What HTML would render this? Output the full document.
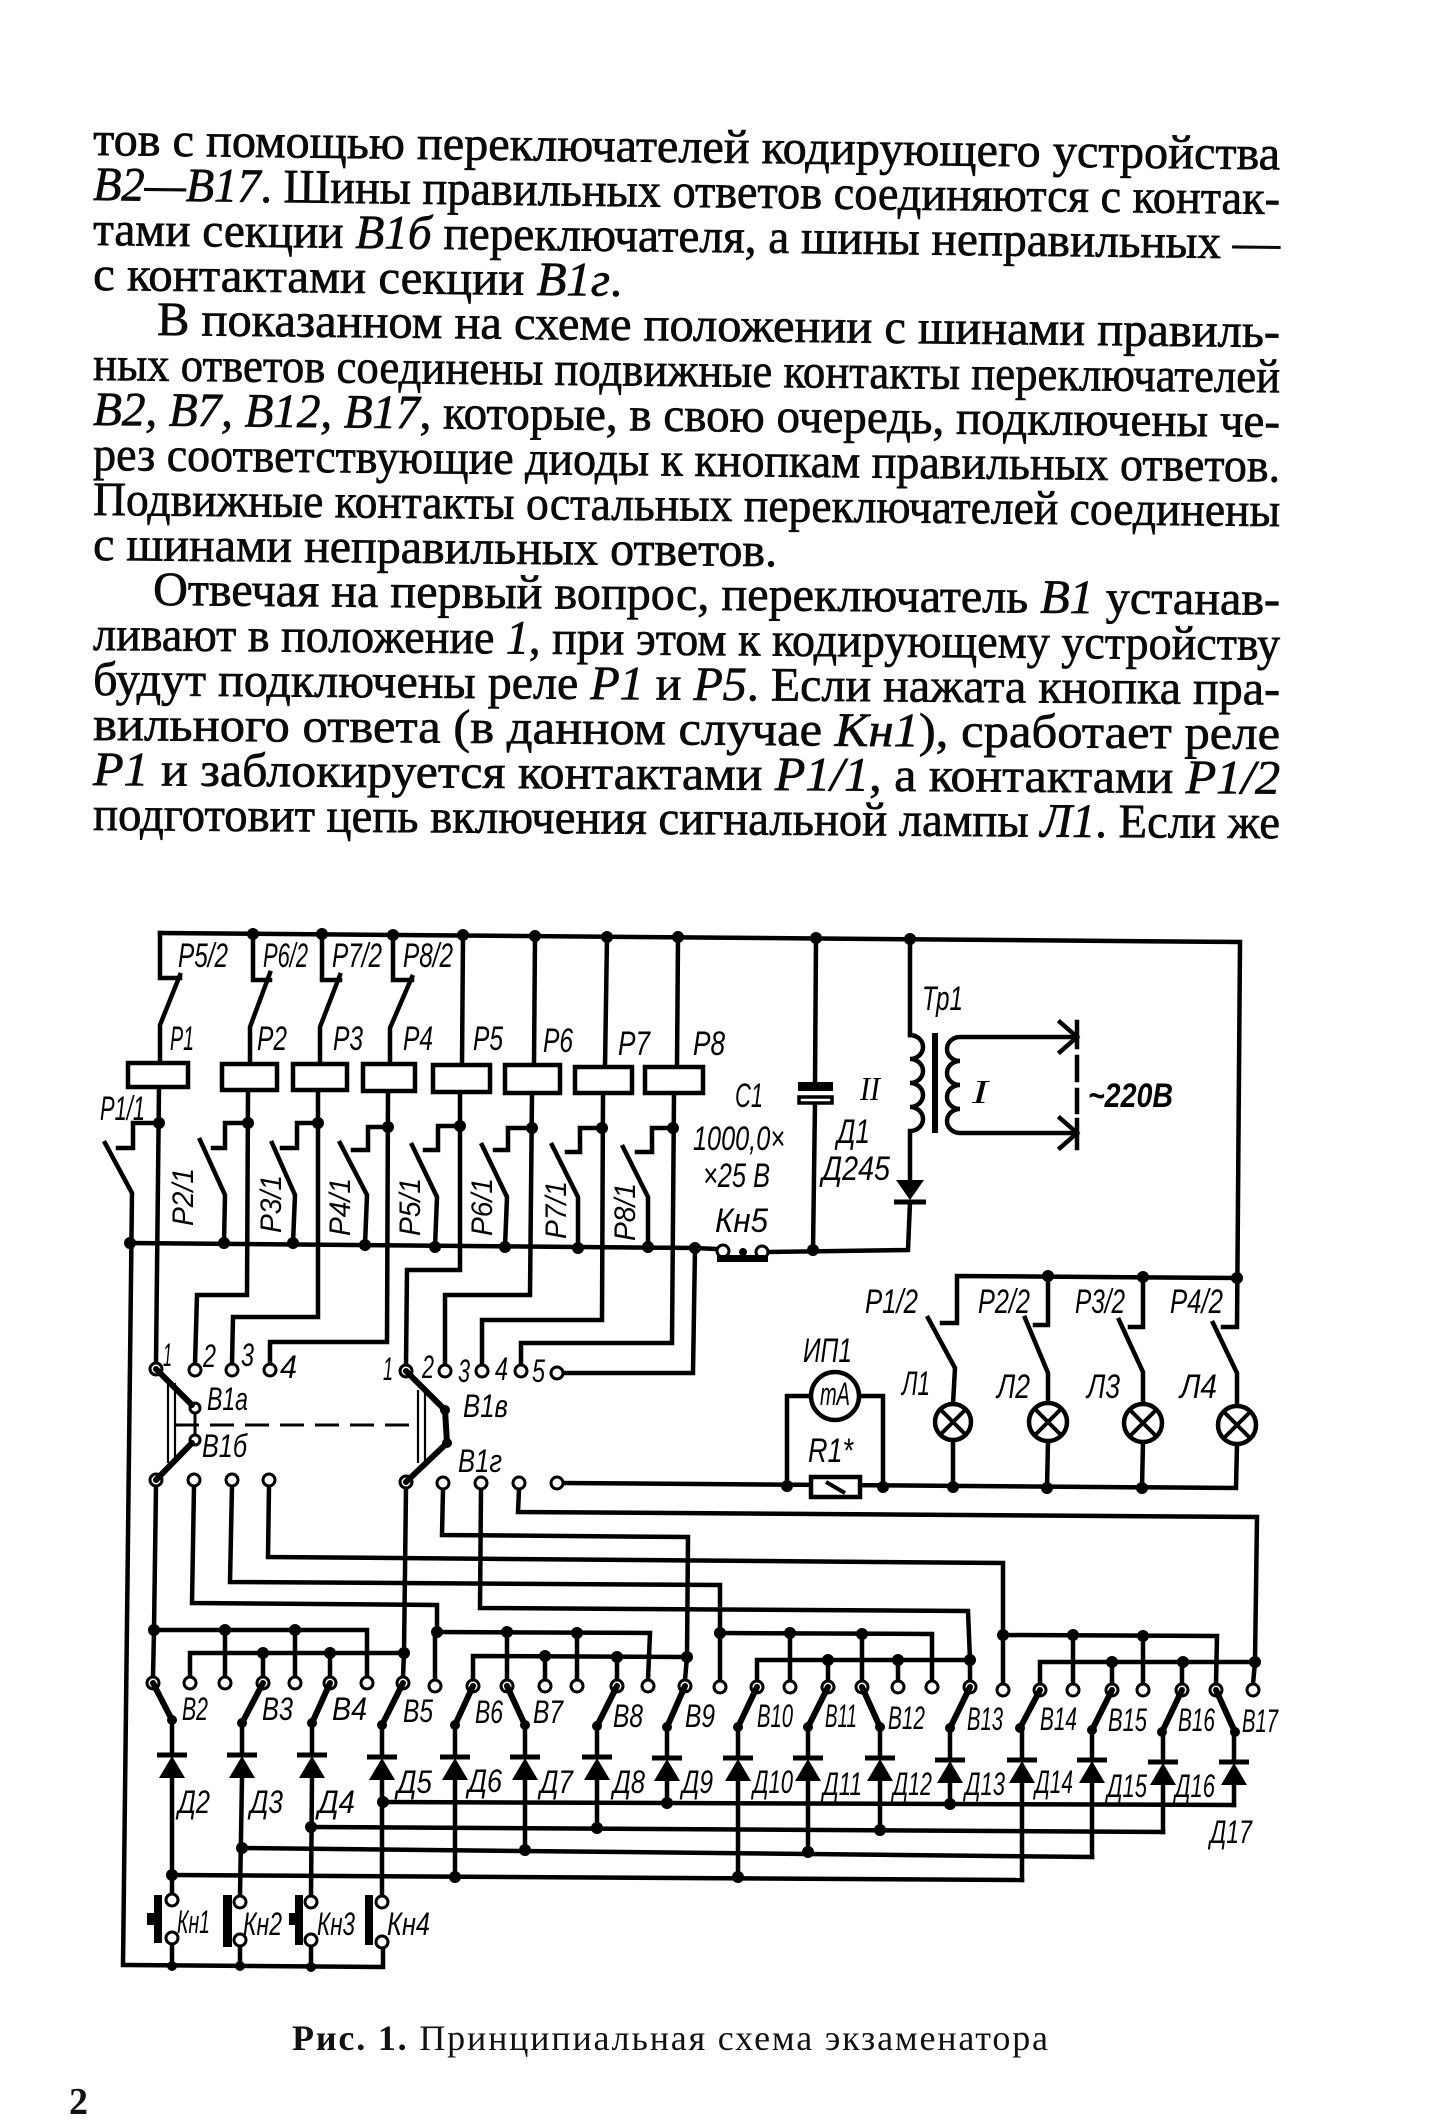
<!DOCTYPE html>
<html><head><meta charset="utf-8"><title>Схема экзаменатора</title>
<style>
html,body{margin:0;padding:0;background:#fff;}
svg{display:block}
.t{font-family:"Liberation Serif","DejaVu Serif",serif;font-size:48px;fill:#0a0a0a;stroke:#0a0a0a;stroke-width:0.7px}
.l{font-family:"Liberation Sans","DejaVu Sans",sans-serif;font-style:italic;font-size:32px;fill:#000}
.lt{font-family:"Liberation Sans","DejaVu Sans",sans-serif;font-style:italic;font-size:34px;fill:#000}
.r{font-family:"Liberation Sans","DejaVu Sans",sans-serif;font-style:italic;font-size:30px;fill:#000}
.s{font-family:"Liberation Serif","DejaVu Serif",serif;font-style:italic;font-size:34px;fill:#000}
</style></head><body>
<svg width="1440" height="2126" viewBox="0 0 1440 2126" xmlns="http://www.w3.org/2000/svg">
<rect width="1440" height="2126" fill="#fff"/>

<!-- ============ TEXT ============ -->
<g class="t">
<text x="93" y="155" textLength="1187" lengthAdjust="spacingAndGlyphs" transform="rotate(0.70 93 155)">тов с помощью переключателей кодирующего устройства</text>
<text x="93" y="200" textLength="1187" lengthAdjust="spacingAndGlyphs" transform="rotate(0.68 93 200)"><tspan font-style="italic">В2—В17</tspan>. Шины правильных ответов соединяются с контак-</text>
<text x="93" y="245" textLength="1187" lengthAdjust="spacingAndGlyphs" transform="rotate(0.66 93 245)">тами секции <tspan font-style="italic">В1б</tspan> переключателя, а шины неправильных —</text>
<text x="93" y="290" textLength="529" lengthAdjust="spacingAndGlyphs" transform="rotate(0.64 93 290)">с контактами секции <tspan font-style="italic">В1г</tspan>.</text>
<text x="157" y="335" textLength="1123" lengthAdjust="spacingAndGlyphs" transform="rotate(0.62 157 335)">В показанном на схеме положении с шинами правиль-</text>
<text x="93" y="380" textLength="1187" lengthAdjust="spacingAndGlyphs" transform="rotate(0.60 93 380)">ных ответов соединены подвижные контакты переключателей</text>
<text x="93" y="425" textLength="1187" lengthAdjust="spacingAndGlyphs" transform="rotate(0.58 93 425)"><tspan font-style="italic">В2, В7, В12, В17</tspan>, которые, в свою очередь, подключены че-</text>
<text x="93" y="470" textLength="1187" lengthAdjust="spacingAndGlyphs" transform="rotate(0.56 93 470)">рез соответствующие диоды к кнопкам правильных ответов.</text>
<text x="93" y="515" textLength="1187" lengthAdjust="spacingAndGlyphs" transform="rotate(0.54 93 515)">Подвижные контакты остальных переключателей соединены</text>
<text x="93" y="560" textLength="684" lengthAdjust="spacingAndGlyphs" transform="rotate(0.52 93 560)">с шинами неправильных ответов.</text>
<text x="153" y="605" textLength="1127" lengthAdjust="spacingAndGlyphs" transform="rotate(0.50 153 605)">Отвечая на первый вопрос, переключатель <tspan font-style="italic">В1</tspan> устанав-</text>
<text x="93" y="650" textLength="1187" lengthAdjust="spacingAndGlyphs" transform="rotate(0.48 93 650)">ливают в положение <tspan font-style="italic">1</tspan>, при этом к кодирующему устройству</text>
<text x="93" y="695" textLength="1187" lengthAdjust="spacingAndGlyphs" transform="rotate(0.46 93 695)">будут подключены реле <tspan font-style="italic">Р1</tspan> и <tspan font-style="italic">Р5</tspan>. Если нажата кнопка пра-</text>
<text x="93" y="740" textLength="1187" lengthAdjust="spacingAndGlyphs" transform="rotate(0.44 93 740)">вильного ответа (в данном случае <tspan font-style="italic">Кн1</tspan>), сработает реле</text>
<text x="93" y="785" textLength="1187" lengthAdjust="spacingAndGlyphs" transform="rotate(0.42 93 785)"><tspan font-style="italic">Р1</tspan> и заблокируется контактами <tspan font-style="italic">Р1/1</tspan>, а контактами <tspan font-style="italic">Р1/2</tspan></text>
<text x="93" y="830" textLength="1187" lengthAdjust="spacingAndGlyphs" transform="rotate(0.40 93 830)">подготовит цепь включения сигнальной лампы <tspan font-style="italic">Л1</tspan>. Если же</text>
</g>

<!-- ============ WIRES ============ -->
<g fill="none" stroke="#000" stroke-width="4.5" stroke-linecap="square" stroke-linejoin="miter">
<path d="M160,933 L1240,942 L1237,1327 L1223,1327"/>
<path d="M160,933 L160,978 L180,978"/>
<path d="M180,975 L160,1025 L160,1063"/>
<path d="M159,1087 L156,1363"/>
<path d="M159,1123 L133,1123 L133,1148 L118,1148"/>
<path d="M105,1143 L132,1193 L123,1965 L383,1967 L383,1948"/>
<path d="M253,934 L253,980 L270,980"/>
<path d="M270,973 L250,1027 L250,1064"/>
<path d="M248,1090 L247,1295 L197,1295 L195,1364"/>
<path d="M248,1123 L225,1123 L225,1148 L213,1148"/>
<path d="M200,1140 L225,1195 L224,1243"/>
<path d="M322,934 L322,980 L340,980"/>
<path d="M340,975 L320,1027 L320,1064"/>
<path d="M318,1090 L318,1317 L233,1317 L232,1364"/>
<path d="M318,1123 L297,1123 L297,1148 L282,1148"/>
<path d="M272,1143 L295,1195 L293,1243"/>
<path d="M393,935 L393,980 L412,980"/>
<path d="M412,977 L390,1028 L390,1064"/>
<path d="M388,1091 L387,1342 L270,1342 L270,1364"/>
<path d="M388,1127 L368,1127 L368,1150 L353,1150"/>
<path d="M340,1143 L367,1195 L365,1245"/>
<path d="M463,935 L462,1065"/>
<path d="M460,1092 L460,1270 L407,1270 L406,1365"/>
<path d="M460,1126 L438,1126 L438,1150 L425,1150"/>
<path d="M412,1145 L437,1197 L435,1247"/>
<path d="M535,936 L534,1065"/>
<path d="M532,1093 L530,1295 L445,1295 L445,1365"/>
<path d="M532,1128 L508,1128 L508,1150 L495,1150"/>
<path d="M482,1145 L507,1197 L505,1247"/>
<path d="M607,937 L605,1067"/>
<path d="M603,1093 L602,1320 L482,1320 L482,1365"/>
<path d="M602,1128 L580,1128 L580,1152 L567,1152"/>
<path d="M552,1145 L578,1197 L578,1248"/>
<path d="M678,937 L677,1067"/>
<path d="M674,1093 L672,1343 L521,1343 L521,1365"/>
<path d="M673,1128 L652,1128 L652,1152 L637,1152"/>
<path d="M623,1147 L648,1197 L648,1247"/>
<path d="M130,1243 L695,1248 L717,1249"/>
<path d="M695,1248 L693,1373 L563,1373"/>
<path d="M768,1252 L908,1250 L910,1202"/>
<path d="M816,938 L815,1083"/>
<path d="M815,1103 L813,1250"/>
<path d="M910,939 L910,1035"/>
<path d="M910,1035 a13,12 0 0 1 0,24 a13,12 0 0 1 0,24 a13,12 0 0 1 0,24 a13,12 0 0 1 0,24 L910,1180"/>
<path d="M1077,1037 L960,1037 a13,12 0 0 0 0,24 a13,12 0 0 0 0,24 a13,12 0 0 0 0,24 a13,12 0 0 0 0,24 L1077,1133"/>
<path d="M1060,1022 L1077,1037 L1060,1052"/>
<path d="M1060,1118 L1077,1133 L1060,1148"/>
<path d="M1077,1022 L1077,1047 M1077,1057 L1077,1080 M1077,1090 L1077,1112 M1077,1120 L1077,1148"/>
<path d="M942,1323 L957,1323 L957,1276 L1237,1278"/>
<path d="M928,1318 L955,1368 L953,1404"/>
<path d="M953,1440 L953,1487"/>
<path d="M1048,1276 L1048,1325 L1035,1325"/>
<path d="M1025,1318 L1048,1373 L1048,1403"/>
<path d="M1048,1441 L1047,1488"/>
<path d="M1143,1277 L1143,1327 L1130,1327"/>
<path d="M1119,1320 L1143,1372 L1143,1404"/>
<path d="M1143,1442 L1142,1488"/>
<path d="M1213,1323 L1237,1373 L1237,1406"/>
<path d="M1237,1444 L1236,1488 L563,1483"/>
<path d="M811,1396 L787,1396 L787,1486"/>
<path d="M859,1396 L883,1396 L883,1487"/>
<path d="M156,1486 L154,1630 L367,1630 L367,1677"/>
<path d="M154,1630 L153,1677 M225,1630 L225,1677 M295,1630 L295,1677"/>
<path d="M194,1486 L192,1603 L437,1605 L437,1632"/>
<path d="M435,1632 L650,1633 L648,1680"/>
<path d="M435,1632 L435,1680 M507,1632 L507,1680 M577,1633 L577,1680"/>
<path d="M232,1486 L230,1582 L720,1585 L720,1633"/>
<path d="M720,1633 L932,1634 L932,1681"/>
<path d="M720,1633 L720,1681 M790,1633 L790,1681 M862,1634 L862,1681"/>
<path d="M269,1486 L268,1557 L1003,1563 L1003,1635"/>
<path d="M1003,1635 L1217,1636 L1216,1684"/>
<path d="M1003,1635 L1003,1684 M1073,1635 L1073,1684 M1143,1636 L1143,1684"/>
<path d="M406,1488 L404,1653"/>
<path d="M190,1677 L190,1653 L404,1653 L403,1677"/>
<path d="M263,1653 L263,1677 M330,1653 L330,1677"/>
<path d="M443,1489 L442,1535 L688,1537 L687,1657 L685,1680"/>
<path d="M473,1680 L473,1656 L687,1657"/>
<path d="M545,1656 L545,1680 M617,1657 L617,1680"/>
<path d="M481,1489 L480,1608 L968,1611 L970,1660 L970,1681"/>
<path d="M757,1681 L757,1660 L970,1660"/>
<path d="M828,1660 L828,1681 M898,1660 L898,1681"/>
<path d="M519,1489 L518,1512 L1257,1517 L1255,1662 L1253,1684"/>
<path d="M1040,1684 L1040,1662 L1255,1662"/>
<path d="M1112,1662 L1112,1684 M1182,1662 L1182,1684"/>
<path d="M383,1802 L1234,1805"/>
<path d="M311,1827 L1163,1832"/>
<path d="M242,1848 L1092,1857"/>
<path d="M172,1875 L1022,1880"/>
<path d="M172,1720 L172,1755 M172,1777 L172,1894"/>
<path d="M242,1723 L242,1755 M242,1777 L240,1896"/>
<path d="M312,1723 L312,1755 M312,1777 L311,1896"/>
<path d="M382,1725 L382,1757 M382,1779 L382,1896"/>
<path d="M455,1725 L455,1757 M455,1779 L455,1877"/>
<path d="M525,1725 L525,1757 M525,1779 L525,1850"/>
<path d="M597,1726 L597,1757 M597,1779 L597,1828"/>
<path d="M667,1727 L667,1758 M667,1780 L667,1803"/>
<path d="M738,1727 L738,1758 M738,1780 L738,1877"/>
<path d="M808,1727 L808,1758 M808,1780 L808,1852"/>
<path d="M880,1727 L880,1758 M880,1780 L880,1830"/>
<path d="M950,1728 L950,1760 M950,1782 L950,1804"/>
<path d="M1022,1728 L1022,1760 M1022,1782 L1022,1880"/>
<path d="M1092,1730 L1092,1760 M1092,1782 L1092,1857"/>
<path d="M1163,1732 L1163,1762 M1163,1784 L1163,1832"/>
<path d="M1234,1732 L1234,1762 M1234,1784 L1234,1805"/>
<path d="M172,1944 L172,1966 M240,1946 L240,1966 M311,1946 L311,1967"/>
</g>

<g stroke="#000" stroke-width="5" fill="none">
<path d="M157,1755 H187 M227,1755 H257 M297,1755 H327 M367,1757 H397 M440,1757 H470 M510,1757 H540 M582,1757 H612 M652,1758 H682 M723,1758 H753 M793,1758 H823 M865,1758 H895 M935,1760 H965 M1007,1760 H1037 M1077,1760 H1107 M1148,1762 H1178 M1219,1762 H1249"/>
<path d="M894,1202 H926"/>
</g>
<g fill="#000">
<polygon points="159,1778 185,1778 172,1756"/>
<polygon points="229,1778 255,1778 242,1756"/>
<polygon points="299,1778 325,1778 312,1756"/>
<polygon points="369,1780 395,1780 382,1758"/>
<polygon points="442,1780 468,1780 455,1758"/>
<polygon points="512,1780 538,1780 525,1758"/>
<polygon points="584,1780 610,1780 597,1758"/>
<polygon points="654,1781 680,1781 667,1759"/>
<polygon points="725,1781 751,1781 738,1759"/>
<polygon points="795,1781 821,1781 808,1759"/>
<polygon points="867,1781 893,1781 880,1759"/>
<polygon points="937,1783 963,1783 950,1761"/>
<polygon points="1009,1783 1035,1783 1022,1761"/>
<polygon points="1079,1783 1105,1783 1092,1761"/>
<polygon points="1150,1785 1176,1785 1163,1763"/>
<polygon points="1221,1785 1247,1785 1234,1763"/>
<polygon points="896,1180 924,1180 910,1200"/>
</g>

<g fill="#fff" stroke="#000" stroke-width="4.5">
<rect x="128" y="1063" width="60" height="24"/>
<rect x="222" y="1064" width="55" height="26"/>
<rect x="293" y="1064" width="54" height="26"/>
<rect x="363" y="1064" width="52" height="27"/>
<rect x="433" y="1065" width="57" height="27"/>
<rect x="505" y="1065" width="55" height="28"/>
<rect x="575" y="1067" width="57" height="26"/>
<rect x="645" y="1067" width="58" height="26"/>
<rect x="811" y="1477" width="49" height="20"/>
<rect x="799" y="1097" width="33" height="6" stroke-width="3.5"/>
<circle cx="835" cy="1396" r="24"/>
<circle cx="953" cy="1422" r="18"/>
<circle cx="1048" cy="1422" r="19"/>
<circle cx="1143" cy="1423" r="19"/>
<circle cx="1237" cy="1425" r="19"/>
</g>
<rect x="798" y="1082" width="35" height="9" fill="#000"/>
<rect x="932" y="1033" width="6" height="100" fill="#000"/>
<g stroke="#000" stroke-width="4" fill="none">
<path d="M826,1482 L845,1493"/>
<path d="M940,1409 L966,1435 M966,1409 L940,1435"/>
<path d="M1035,1409 L1061,1435 M1061,1409 L1035,1435"/>
<path d="M1130,1410 L1156,1436 M1156,1410 L1130,1436"/>
<path d="M1224,1412 L1250,1438 M1250,1412 L1224,1438"/>
</g>

<g stroke="#000" fill="none">
<path d="M168,1383 L168,1463 M175,1383 L175,1463 M418,1390 L418,1463 M425,1390 L425,1463" stroke-width="2.2"/>
<path d="M175,1425 L418,1425" stroke-width="3" stroke-dasharray="24,11"/>
<path d="M195,1413 L195,1435" stroke-width="3"/>
</g>

<g fill="#fff" stroke="#000" stroke-width="3">
<circle cx="156" cy="1369" r="6"/><circle cx="195" cy="1370" r="6"/><circle cx="232" cy="1370" r="6"/><circle cx="270" cy="1370" r="6"/>
<circle cx="406" cy="1371" r="6"/><circle cx="445" cy="1371" r="6"/><circle cx="482" cy="1371" r="6"/><circle cx="521" cy="1371" r="6"/><circle cx="557" cy="1373" r="6"/>
<circle cx="156" cy="1480" r="6"/><circle cx="194" cy="1480" r="6"/><circle cx="232" cy="1480" r="6"/><circle cx="269" cy="1480" r="6"/>
<circle cx="406" cy="1482" r="6"/><circle cx="443" cy="1483" r="6"/><circle cx="481" cy="1483" r="6"/><circle cx="519" cy="1483" r="6"/><circle cx="557" cy="1483" r="6"/>
<circle cx="195" cy="1408" r="5"/><circle cx="195" cy="1440" r="5"/>
<circle cx="723" cy="1251" r="6"/><circle cx="762" cy="1252" r="6"/>
<circle cx="153" cy="1683" r="6"/><circle cx="190" cy="1683" r="6"/><circle cx="225" cy="1683" r="6"/><circle cx="263" cy="1683" r="6"/>
<circle cx="295" cy="1683" r="6"/><circle cx="330" cy="1683" r="6"/><circle cx="367" cy="1683" r="6"/><circle cx="403" cy="1683" r="6"/>
<circle cx="435" cy="1686" r="6"/><circle cx="473" cy="1686" r="6"/><circle cx="507" cy="1686" r="6"/><circle cx="545" cy="1686" r="6"/>
<circle cx="577" cy="1686" r="6"/><circle cx="617" cy="1686" r="6"/><circle cx="648" cy="1686" r="6"/><circle cx="685" cy="1686" r="6"/>
<circle cx="720" cy="1687" r="6"/><circle cx="757" cy="1687" r="6"/><circle cx="790" cy="1687" r="6"/><circle cx="828" cy="1687" r="6"/>
<circle cx="862" cy="1687" r="6"/><circle cx="898" cy="1687" r="6"/><circle cx="932" cy="1687" r="6"/><circle cx="970" cy="1687" r="6"/>
<circle cx="1003" cy="1690" r="6"/><circle cx="1040" cy="1690" r="6"/><circle cx="1073" cy="1690" r="6"/><circle cx="1112" cy="1690" r="6"/>
<circle cx="1143" cy="1690" r="6"/><circle cx="1182" cy="1690" r="6"/><circle cx="1216" cy="1690" r="6"/><circle cx="1253" cy="1690" r="6"/>
<circle cx="172" cy="1900" r="6"/><circle cx="172" cy="1938" r="6"/>
<circle cx="240" cy="1902" r="6"/><circle cx="240" cy="1940" r="6"/>
<circle cx="311" cy="1902" r="6"/><circle cx="311" cy="1940" r="6"/>
<circle cx="382" cy="1902" r="6"/><circle cx="382" cy="1942" r="6"/>
</g>

<g stroke="#000" stroke-width="6" stroke-linecap="round" fill="none">
<path d="M156,1369 L192,1405"/>
<path d="M192,1443 L156,1480"/>
<path d="M406,1371 L445,1410 L447,1443 L406,1482"/>
<path d="M153,1683 L172,1720"/>
<path d="M263,1683 L242,1723"/>
<path d="M330,1683 L312,1723"/>
<path d="M403,1683 L382,1725"/>
<path d="M473,1686 L455,1725"/>
<path d="M507,1686 L525,1725"/>
<path d="M617,1686 L597,1726"/>
<path d="M685,1686 L667,1727"/>
<path d="M757,1687 L738,1727"/>
<path d="M828,1687 L808,1727"/>
<path d="M862,1687 L880,1727"/>
<path d="M970,1687 L950,1728"/>
<path d="M1040,1690 L1020,1728"/>
<path d="M1112,1690 L1092,1730"/>
<path d="M1182,1690 L1162,1732"/>
<path d="M1216,1690 L1235,1732"/>
</g>

<g fill="#000">
<rect x="154" y="1895" width="8" height="48"/><rect x="147" y="1913" width="8" height="12"/>
<rect x="223" y="1895" width="9" height="52"/>
<rect x="295" y="1895" width="8" height="50"/><rect x="289" y="1913" width="7" height="12"/>
<rect x="365" y="1895" width="8" height="50"/>
<rect x="717" y="1255" width="51" height="7"/><circle cx="743" cy="1252" r="4"/>
</g>

<g fill="#000">
<circle cx="253" cy="934" r="6"/><circle cx="322" cy="934" r="6"/><circle cx="393" cy="935" r="6"/><circle cx="463" cy="935" r="6"/>
<circle cx="535" cy="936" r="6"/><circle cx="607" cy="937" r="6"/><circle cx="678" cy="937" r="6"/><circle cx="816" cy="938" r="6"/><circle cx="910" cy="939" r="6"/>
<circle cx="159" cy="1123" r="6"/><circle cx="248" cy="1123" r="6"/><circle cx="318" cy="1123" r="6"/><circle cx="388" cy="1127" r="6"/>
<circle cx="460" cy="1126" r="6"/><circle cx="532" cy="1128" r="6"/><circle cx="602" cy="1128" r="6"/><circle cx="673" cy="1128" r="6"/>
<circle cx="130" cy="1243" r="6"/><circle cx="224" cy="1243" r="6"/><circle cx="293" cy="1243" r="6"/><circle cx="365" cy="1245" r="6"/>
<circle cx="435" cy="1247" r="6"/><circle cx="505" cy="1247" r="6"/><circle cx="578" cy="1248" r="6"/><circle cx="648" cy="1247" r="6"/>
<circle cx="695" cy="1248" r="6"/><circle cx="813" cy="1250" r="6"/>
<circle cx="1048" cy="1276" r="6"/><circle cx="1143" cy="1277" r="6"/><circle cx="1237" cy="1278" r="6"/>
<circle cx="787" cy="1486" r="6"/><circle cx="883" cy="1487" r="6"/><circle cx="953" cy="1487" r="6"/><circle cx="1047" cy="1488" r="6"/><circle cx="1142" cy="1488" r="6"/>
<circle cx="445" cy="1410" r="5"/><circle cx="447" cy="1443" r="5"/>
<circle cx="154" cy="1630" r="6"/><circle cx="225" cy="1630" r="6"/><circle cx="295" cy="1630" r="6"/>
<circle cx="263" cy="1653" r="6"/><circle cx="330" cy="1653" r="6"/><circle cx="404" cy="1653" r="6"/>
<circle cx="437" cy="1632" r="6"/><circle cx="507" cy="1632" r="6"/><circle cx="577" cy="1633" r="6"/>
<circle cx="545" cy="1656" r="6"/><circle cx="617" cy="1657" r="6"/><circle cx="687" cy="1657" r="6"/>
<circle cx="720" cy="1633" r="6"/><circle cx="790" cy="1633" r="6"/><circle cx="862" cy="1634" r="6"/>
<circle cx="828" cy="1660" r="6"/><circle cx="898" cy="1660" r="6"/><circle cx="970" cy="1660" r="6"/>
<circle cx="1003" cy="1635" r="6"/><circle cx="1073" cy="1635" r="6"/><circle cx="1143" cy="1636" r="6"/>
<circle cx="1112" cy="1662" r="6"/><circle cx="1183" cy="1662" r="6"/><circle cx="1255" cy="1662" r="6"/>
<circle cx="172" cy="1720" r="5"/><circle cx="242" cy="1723" r="5"/><circle cx="312" cy="1723" r="5"/><circle cx="382" cy="1725" r="5"/>
<circle cx="455" cy="1725" r="5"/><circle cx="525" cy="1725" r="5"/><circle cx="597" cy="1726" r="5"/><circle cx="667" cy="1727" r="5"/>
<circle cx="738" cy="1727" r="5"/><circle cx="808" cy="1727" r="5"/><circle cx="880" cy="1727" r="5"/><circle cx="950" cy="1728" r="5"/>
<circle cx="1020" cy="1728" r="5"/><circle cx="1092" cy="1730" r="5"/><circle cx="1162" cy="1732" r="5"/><circle cx="1235" cy="1732" r="5"/>
<circle cx="383" cy="1802" r="6"/><circle cx="667" cy="1803" r="6"/><circle cx="950" cy="1804" r="6"/>
<circle cx="311" cy="1827" r="6"/><circle cx="597" cy="1828" r="6"/><circle cx="880" cy="1830" r="6"/>
<circle cx="242" cy="1848" r="6"/><circle cx="525" cy="1850" r="6"/><circle cx="808" cy="1852" r="6"/>
<circle cx="172" cy="1875" r="6"/><circle cx="455" cy="1877" r="6"/><circle cx="738" cy="1877" r="6"/>
<circle cx="172" cy="1966" r="5"/><circle cx="240" cy="1966" r="5"/><circle cx="311" cy="1967" r="5"/>
</g>

<g class="lt">
<text x="178" y="967" textLength="50" lengthAdjust="spacingAndGlyphs">Р5/2</text>
<text x="263" y="967" textLength="45" lengthAdjust="spacingAndGlyphs">Р6/2</text>
<text x="332" y="967" textLength="50" lengthAdjust="spacingAndGlyphs">Р7/2</text>
<text x="403" y="967" textLength="50" lengthAdjust="spacingAndGlyphs">Р8/2</text>
<text x="170" y="1050" textLength="24" lengthAdjust="spacingAndGlyphs">Р1</text>
<text x="257" y="1050" textLength="30" lengthAdjust="spacingAndGlyphs">Р2</text>
<text x="333" y="1050" textLength="30" lengthAdjust="spacingAndGlyphs">Р3</text>
<text x="403" y="1050" textLength="30" lengthAdjust="spacingAndGlyphs">Р4</text>
<text x="473" y="1050" textLength="30" lengthAdjust="spacingAndGlyphs">Р5</text>
<text x="543" y="1052" textLength="30" lengthAdjust="spacingAndGlyphs">Р6</text>
<text x="618" y="1055" textLength="32" lengthAdjust="spacingAndGlyphs">Р7</text>
<text x="693" y="1055" textLength="32" lengthAdjust="spacingAndGlyphs">Р8</text>
<text x="100" y="1120" textLength="45" lengthAdjust="spacingAndGlyphs">Р1/1</text>
<text x="735" y="1107" textLength="28" lengthAdjust="spacingAndGlyphs">С1</text>
<text x="693" y="1150" textLength="92" lengthAdjust="spacingAndGlyphs">1000,0×</text>
<text x="703" y="1187" textLength="67" lengthAdjust="spacingAndGlyphs">×25 В</text>
<text x="715" y="1232" textLength="53" lengthAdjust="spacingAndGlyphs">Кн5</text>
<text x="837" y="1143" textLength="33" lengthAdjust="spacingAndGlyphs">Д1</text>
<text x="822" y="1180" textLength="68" lengthAdjust="spacingAndGlyphs">Д245</text>
<text x="922" y="1010" textLength="41" lengthAdjust="spacingAndGlyphs">Тр1</text>
<text x="1088" y="1107" textLength="85" lengthAdjust="spacingAndGlyphs" font-weight="bold">~220В</text>
<text x="865" y="1313" textLength="53" lengthAdjust="spacingAndGlyphs">Р1/2</text>
<text x="978" y="1313" textLength="52" lengthAdjust="spacingAndGlyphs">Р2/2</text>
<text x="1075" y="1313" textLength="50" lengthAdjust="spacingAndGlyphs">Р3/2</text>
<text x="1170" y="1313" textLength="53" lengthAdjust="spacingAndGlyphs">Р4/2</text>
<text x="902" y="1395" textLength="28" lengthAdjust="spacingAndGlyphs">Л1</text>
<text x="997" y="1398" textLength="33" lengthAdjust="spacingAndGlyphs">Л2</text>
<text x="1087" y="1398" textLength="33" lengthAdjust="spacingAndGlyphs">Л3</text>
<text x="1180" y="1398" textLength="37" lengthAdjust="spacingAndGlyphs">Л4</text>
<text x="803" y="1362" textLength="49" lengthAdjust="spacingAndGlyphs">ИП1</text>
<text x="808" y="1462" textLength="45" lengthAdjust="spacingAndGlyphs">R1*</text>
</g>
<g class="s">
<text x="860" y="1100" textLength="20" lengthAdjust="spacingAndGlyphs">II</text>
<text x="972" y="1103" textLength="16" lengthAdjust="spacingAndGlyphs">I</text>
</g>
<text x="820" y="1405" class="l" font-size="24" textLength="30" lengthAdjust="spacingAndGlyphs">mA</text>

<g class="l">
<text x="163" y="1366" textLength="9" lengthAdjust="spacingAndGlyphs">1</text>
<text x="203" y="1367" textLength="13" lengthAdjust="spacingAndGlyphs">2</text>
<text x="241" y="1366" textLength="13" lengthAdjust="spacingAndGlyphs">3</text>
<text x="280" y="1378" textLength="17" lengthAdjust="spacingAndGlyphs">4</text>
<text x="383" y="1380" textLength="10" lengthAdjust="spacingAndGlyphs">1</text>
<text x="422" y="1378" textLength="12" lengthAdjust="spacingAndGlyphs">2</text>
<text x="458" y="1382" textLength="12" lengthAdjust="spacingAndGlyphs">3</text>
<text x="495" y="1380" textLength="13" lengthAdjust="spacingAndGlyphs">4</text>
<text x="532" y="1382" textLength="13" lengthAdjust="spacingAndGlyphs">5</text>
<text x="207" y="1410" textLength="41" lengthAdjust="spacingAndGlyphs">В1а</text>
<text x="202" y="1457" textLength="45" lengthAdjust="spacingAndGlyphs">В1б</text>
<text x="463" y="1417" textLength="45" lengthAdjust="spacingAndGlyphs">В1в</text>
<text x="458" y="1472" textLength="44" lengthAdjust="spacingAndGlyphs">В1г</text>

<text x="182" y="1720" textLength="26" lengthAdjust="spacingAndGlyphs">В2</text>
<text x="262" y="1720" textLength="31" lengthAdjust="spacingAndGlyphs">В3</text>
<text x="332" y="1720" textLength="35" lengthAdjust="spacingAndGlyphs">В4</text>
<text x="403" y="1722" textLength="30" lengthAdjust="spacingAndGlyphs">В5</text>
<text x="475" y="1723" textLength="28" lengthAdjust="spacingAndGlyphs">В6</text>
<text x="533" y="1723" textLength="30" lengthAdjust="spacingAndGlyphs">В7</text>
<text x="613" y="1727" textLength="30" lengthAdjust="spacingAndGlyphs">В8</text>
<text x="685" y="1727" textLength="30" lengthAdjust="spacingAndGlyphs">В9</text>
<text x="757" y="1727" textLength="36" lengthAdjust="spacingAndGlyphs">В10</text>
<text x="825" y="1727" textLength="32" lengthAdjust="spacingAndGlyphs">В11</text>
<text x="888" y="1729" textLength="37" lengthAdjust="spacingAndGlyphs">В12</text>
<text x="967" y="1730" textLength="36" lengthAdjust="spacingAndGlyphs">В13</text>
<text x="1040" y="1730" textLength="37" lengthAdjust="spacingAndGlyphs">В14</text>
<text x="1108" y="1731" textLength="39" lengthAdjust="spacingAndGlyphs">В15</text>
<text x="1178" y="1731" textLength="37" lengthAdjust="spacingAndGlyphs">В16</text>
<text x="1242" y="1732" textLength="36" lengthAdjust="spacingAndGlyphs">В17</text>

<text x="178" y="1813" textLength="32" lengthAdjust="spacingAndGlyphs">Д2</text>
<text x="250" y="1813" textLength="33" lengthAdjust="spacingAndGlyphs">Д3</text>
<text x="318" y="1813" textLength="37" lengthAdjust="spacingAndGlyphs">Д4</text>
<text x="397" y="1793" textLength="35" lengthAdjust="spacingAndGlyphs">Д5</text>
<text x="468" y="1792" textLength="34" lengthAdjust="spacingAndGlyphs">Д6</text>
<text x="540" y="1793" textLength="33" lengthAdjust="spacingAndGlyphs">Д7</text>
<text x="613" y="1793" textLength="32" lengthAdjust="spacingAndGlyphs">Д8</text>
<text x="682" y="1793" textLength="31" lengthAdjust="spacingAndGlyphs">Д9</text>
<text x="753" y="1793" textLength="40" lengthAdjust="spacingAndGlyphs">Д10</text>
<text x="823" y="1795" textLength="39" lengthAdjust="spacingAndGlyphs">Д11</text>
<text x="893" y="1795" textLength="39" lengthAdjust="spacingAndGlyphs">Д12</text>
<text x="965" y="1795" textLength="40" lengthAdjust="spacingAndGlyphs">Д13</text>
<text x="1035" y="1793" textLength="38" lengthAdjust="spacingAndGlyphs">Д14</text>
<text x="1107" y="1797" textLength="40" lengthAdjust="spacingAndGlyphs">Д15</text>
<text x="1175" y="1797" textLength="40" lengthAdjust="spacingAndGlyphs">Д16</text>
<text x="1210" y="1843" textLength="42" lengthAdjust="spacingAndGlyphs">Д17</text>

<text x="177" y="1933" textLength="33" lengthAdjust="spacingAndGlyphs">Кн1</text>
<text x="243" y="1935" textLength="39" lengthAdjust="spacingAndGlyphs">Кн2</text>
<text x="317" y="1935" textLength="38" lengthAdjust="spacingAndGlyphs">Кн3</text>
<text x="387" y="1935" textLength="43" lengthAdjust="spacingAndGlyphs">Кн4</text>
</g>

<g class="r">
<text transform="translate(182,1197) rotate(-90)" x="-29" y="11" textLength="58" lengthAdjust="spacingAndGlyphs">Р2/1</text>
<text transform="translate(270,1204) rotate(-90)" x="-29" y="11" textLength="58" lengthAdjust="spacingAndGlyphs">Р3/1</text>
<text transform="translate(339,1207) rotate(-90)" x="-29" y="11" textLength="58" lengthAdjust="spacingAndGlyphs">Р4/1</text>
<text transform="translate(409,1207) rotate(-90)" x="-29" y="11" textLength="58" lengthAdjust="spacingAndGlyphs">Р5/1</text>
<text transform="translate(481,1207) rotate(-90)" x="-29" y="11" textLength="58" lengthAdjust="spacingAndGlyphs">Р6/1</text>
<text transform="translate(555,1210) rotate(-90)" x="-29" y="11" textLength="58" lengthAdjust="spacingAndGlyphs">Р7/1</text>
<text transform="translate(624,1212) rotate(-90)" x="-29" y="11" textLength="58" lengthAdjust="spacingAndGlyphs">Р8/1</text>
</g>

<text x="292" y="2050" font-family="Liberation Serif, DejaVu Serif, serif" font-size="36" fill="#111" textLength="756" lengthAdjust="spacing"><tspan font-weight="bold">Рис. 1.</tspan> Принципиальная схема экзаменатора</text>
<text x="69" y="2114" font-family="Liberation Serif, DejaVu Serif, serif" font-size="38" font-weight="bold" fill="#111">2</text>
</svg>
</body></html>
